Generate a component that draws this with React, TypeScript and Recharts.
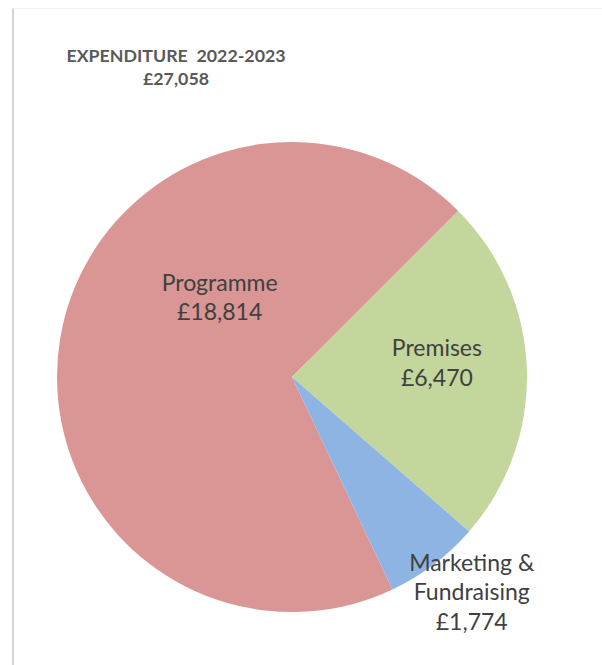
import { PieChart, Pie, Cell } from 'recharts';

const categories = ['Programme', 'Premises', 'Marketing & Fundraising'];
const amounts = [18814, 6470, 1774];
const colors = ['#D99694', '#C3D69B', '#8EB4E3'];
const titleLines = ['EXPENDITURE  2022-2023', '£27,058'];

const data = categories.map((name, i) => ({ name, value: amounts[i] }));

// label placement per slice: angle (deg) from center, fraction of outer radius, text lines
const labelPlacement = [
  { angle: 132, r: 0.46, lines: ['Programme'] },
  { angle: 6, r: 0.62, lines: ['Premises'] },
  { angle: -50, r: 1.19, lines: ['Marketing &', 'Fundraising'] },
];

const RAD = Math.PI / 180;
const fmt = (v: number) => '£' + v.toLocaleString('en-GB');

const renderLabel = (props: any) => {
  const { cx, cy, outerRadius, index, value } = props;
  const p = labelPlacement[index];
  const x = cx + outerRadius * p.r * Math.cos(p.angle * RAD);
  const y = cy - outerRadius * p.r * Math.sin(p.angle * RAD);
  const lines = [...p.lines, fmt(value)];
  const lh = 29.5;
  const top = y - ((lines.length - 1) * lh) / 2;
  return (
    <text x={x} textAnchor="middle" fill="#404040" fontFamily="Lato, 'Open Sans', sans-serif" fontSize={23}>
      {lines.map((l, i) => (
        <tspan key={i} x={x} y={top + i * lh} dominantBaseline="central">
          {l}
        </tspan>
      ))}
    </text>
  );
};

const App = () => {
  return (
    <div style={{ position: 'fixed', left: 0, top: 0, width: 602, height: 665, background: '#fff' }}>
      <div
        style={{
          position: 'absolute',
          left: 12,
          top: 8,
          width: 590,
          height: 657,
          borderLeft: '2px solid #d4d4d4',
          borderTop: '1px solid #f2f2f2',
        }}
      />
      <div
        style={{
          position: 'absolute',
          left: 46,
          top: 44,
          width: 260,
          textAlign: 'center',
          fontFamily: "Lato, 'Open Sans', sans-serif",
          fontWeight: 700,
          fontSize: 17.8,
          lineHeight: '23px',
          color: '#595959',
          whiteSpace: 'pre',
        }}
      >
        {titleLines.map((t, i) => (
          <div key={i}>{t}</div>
        ))}
      </div>
      <PieChart
        width={602}
        height={665}
        margin={{ top: 0, right: 0, bottom: 0, left: 0 }}
        style={{ position: 'absolute', left: 0, top: 0 }}
      >
        <Pie
          data={data}
          dataKey="value"
          nameKey="name"
          cx={292}
          cy={377}
          outerRadius={235}
          startAngle={295.3}
          endAngle={-64.7}
          stroke="none"
          label={renderLabel}
          labelLine={false}
          isAnimationActive={false}
        >
          {data.map((d, i) => (
            <Cell key={d.name} fill={colors[i]} />
          ))}
        </Pie>
      </PieChart>
    </div>
  );
};

export default App;
